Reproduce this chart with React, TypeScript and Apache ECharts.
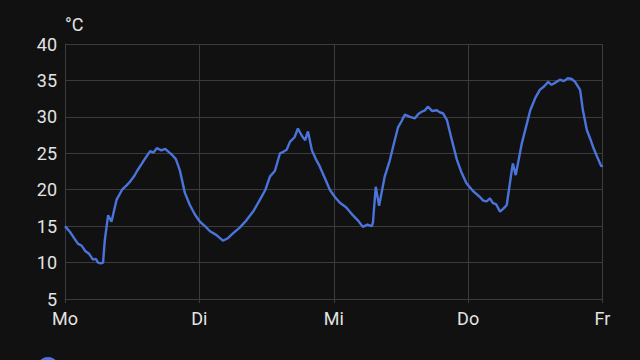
import React, { useEffect, useRef } from "react";
import * as echarts from "echarts";

const dayLabels = ["Mo", "Di", "Mi", "Do", "Fr"];
const seriesName = "Temperatur";

// hours since Monday 00:00
const hours = [
  0, 0.9, 1.6, 2.3, 3.0, 3.6, 4.3, 5.0, 5.5, 5.9, 6.4, 6.8, 7.1, 7.7, 8.3, 9.2, 10.2, 11.0, 11.6, 12.3, 12.9,
  13.9, 14.6, 15.2, 15.8, 16.4, 17.2, 17.9, 18.5, 19.1, 19.8, 20.5, 21.4, 22.3, 23.2, 24.1, 25.0, 25.9, 27.0,
  28.2, 29.0, 30.0, 31.2, 32.4, 33.6, 34.8, 35.8, 36.6, 37.5, 38.4, 39.0, 39.6, 40.2, 41.0, 41.6, 42.3, 42.9,
  43.4, 44.1, 44.8, 45.5, 46.4, 47.3, 48.2, 49.1, 50.2, 51.4, 52.3, 53.2, 54.0, 54.8, 55.0, 55.5, 56.1, 57.1,
  58.0, 58.6, 59.5, 60.1, 60.7, 61.6, 62.5, 63.1, 63.7, 64.3, 64.8, 65.6, 66.4, 67.0, 67.5, 68.2, 69.1, 70.0,
  70.8, 71.7, 72.9, 74.1, 74.7, 75.3, 75.9, 76.4, 77.0, 77.7, 78.3, 78.9, 79.8, 80.0, 80.5, 81.6, 82.4, 83.1,
  84.0, 84.8, 85.6, 86.3, 86.9, 87.6, 88.4, 89.1, 89.8, 90.5, 91.1, 92.0, 92.5, 93.2, 93.8, 94.3, 95.0, 95.8, 96.0,
];

const temps = [
  15.0, 14.2, 13.4, 12.6, 12.3, 11.6, 11.2, 10.4, 10.5, 10.0, 9.9, 10.0, 13.0, 16.5, 15.6, 18.6, 20.0, 20.6, 21.1, 21.8, 22.6,
  23.8, 24.6, 25.3, 25.1, 25.7, 25.4, 25.6, 25.2, 24.8, 24.2, 22.7, 19.6, 17.9, 16.6, 15.6, 15.0, 14.3, 13.8,
  13.0, 13.3, 14.0, 14.8, 15.8, 17.0, 18.6, 20.0, 21.8, 22.6, 25.0, 25.2, 25.5, 26.6, 27.2, 28.4, 27.4, 26.8,
  28.0, 25.4, 24.2, 23.2, 21.6, 20.0, 19.0, 18.2, 17.6, 16.5, 15.8, 14.9, 15.2, 15.0, 15.5, 20.4, 17.8, 21.8,
  24.0, 25.9, 28.6, 29.4, 30.3, 30.0, 29.8, 30.4, 30.7, 30.9, 31.4, 30.8, 30.9, 30.6, 30.5, 29.6, 26.8, 24.1,
  22.4, 20.9, 19.8, 19.0, 18.5, 18.4, 18.8, 18.2, 18.0, 17.0, 17.4, 17.9, 22.7, 23.6, 22.0, 26.4, 28.8, 30.9,
  32.6, 33.7, 34.2, 34.8, 34.4, 34.7, 35.1, 34.9, 35.3, 35.2, 34.8, 33.7, 30.9, 28.2, 27.0, 25.9, 24.6, 23.2, 23.4,
];

const points = hours.map((h, i) => [h, temps[i]]);

export default function App() {
  const ref = useRef<HTMLDivElement>(null);

  useEffect(() => {
    if (!ref.current) return;
    const chart = echarts.init(ref.current, null, { renderer: "svg" });
    const gridColor = "#3c3c3c";
    const textColor = "#e3e3e3";
    chart.setOption({
      animation: false,
      backgroundColor: "#111111",
      textStyle: { fontFamily: "Roboto" },
      grid: { left: 65, right: 37.5, top: 44, bottom: 61, containLabel: false },
      legend: {
        show: true,
        left: 32,
        top: 352,
        icon: "circle",
        itemWidth: 22,
        itemHeight: 22,
        formatter: () => "",
        data: [seriesName],
      },
      xAxis: {
        type: "value",
        min: 0,
        max: 96,
        interval: 24,
        axisLine: { show: true, lineStyle: { color: gridColor } },
        axisTick: { show: true, length: 4, lineStyle: { color: gridColor } },
        splitLine: { show: true, lineStyle: { color: gridColor, width: 1 } },
        axisLabel: {
          color: textColor,
          fontSize: 18,
          margin: 10,
          formatter: (v: number) => dayLabels[Math.round(v / 24)] ?? "",
        },
      },
      yAxis: {
        type: "value",
        min: 5,
        max: 40,
        interval: 5,
        name: "°C",
        nameLocation: "end",
        nameGap: 11,
        nameTextStyle: { color: textColor, fontSize: 18, align: "left" },
        axisLine: { show: true, lineStyle: { color: gridColor } },
        axisTick: { show: false },
        splitLine: { show: true, lineStyle: { color: gridColor, width: 1 } },
        axisLabel: { color: textColor, fontSize: 18, margin: 8 },
      },
      series: [
        {
          name: seriesName,
          type: "line",
          data: points,
          showSymbol: false,
          symbol: "circle",
          lineStyle: { color: "#4a74dc", width: 2.4 },
          itemStyle: { color: "#4a74dc" },
        },
      ],
    });
    return () => chart.dispose();
  }, []);

  return (
    <div
      ref={ref}
      style={{ position: "fixed", left: 0, top: 0, width: 640, height: 360 }}
    />
  );
}
